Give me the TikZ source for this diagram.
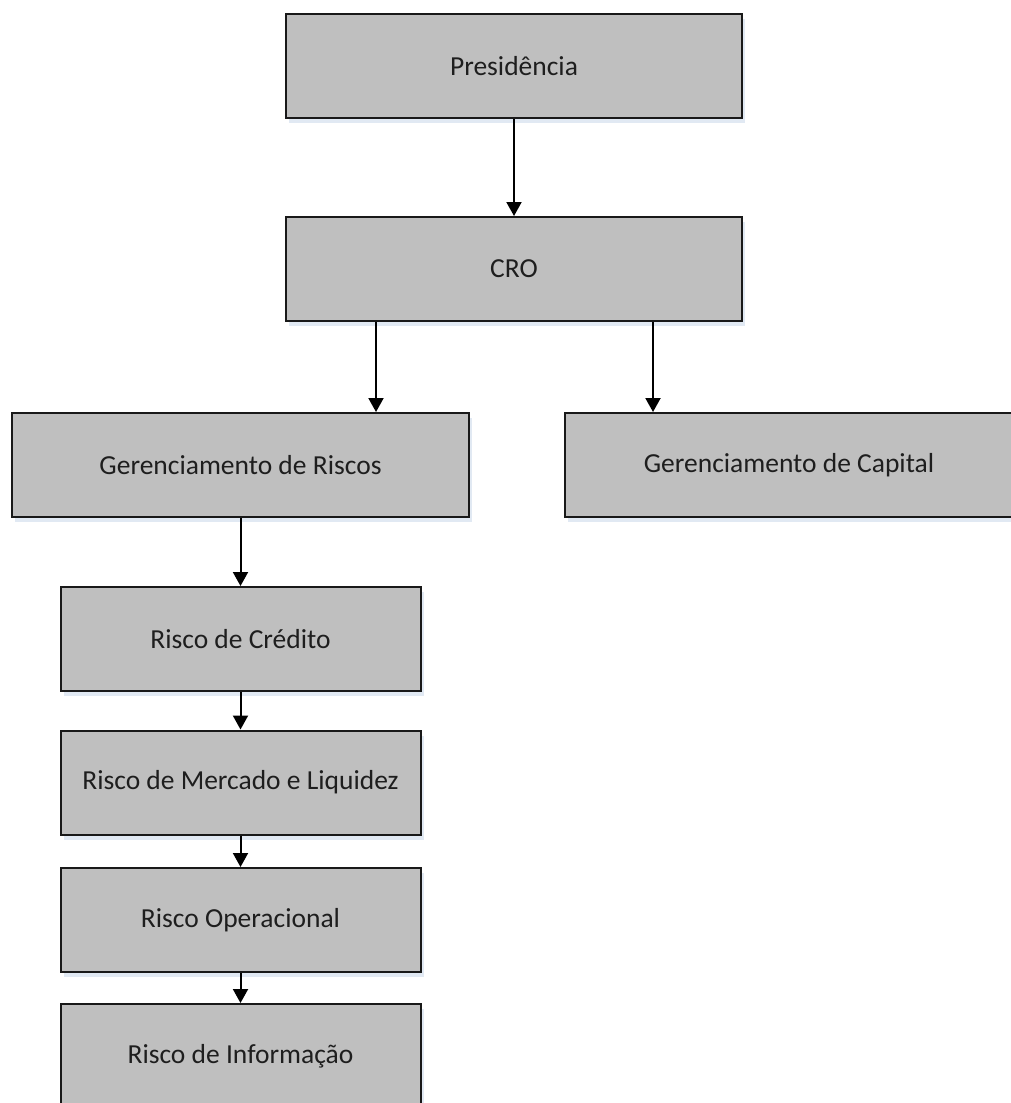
\documentclass[tikz,border=0pt]{standalone}
\usepackage{fontspec}
\setmainfont{Carlito}
\usetikzlibrary{arrows.meta,shadows}
\definecolor{boxgray}{RGB}{191,191,191}
\definecolor{textgray}{RGB}{30,30,30}
\definecolor{shadowblue}{RGB}{205,218,235}
\tikzset{
  orgbox/.style={draw=black!90, line width=2pt, fill=boxgray, text=textgray,
    minimum height=104pt, inner sep=0pt, font=\fontsize{27.5}{32}\selectfont,
    drop shadow={shadow xshift=3pt, shadow yshift=-5pt, fill=shadowblue, opacity=0.6}},
  orgarrow/.style={line width=2pt, -{Triangle[length=14pt,width=15pt]}}
}
\begin{document}
\begin{tikzpicture}[x=1pt,y=1pt,yscale=-1,xscale=1]
\useasboundingbox (0,0) rectangle (1011,1103);

% Boxes
\node [orgbox, minimum width=456pt] (pres) at (514,66) {Presidência};
\node [orgbox, minimum width=456pt] (cro) at (514,269) {CRO};
\node [orgbox, minimum width=457pt] (riscos) at (240.5,465) {Gerenciamento de Riscos};
\node [orgbox, minimum width=448pt] (capital) at (789,465) {Gerenciamento de Capital};
\node [orgbox, minimum width=360pt] (credito) at (240.5,639) {Risco de Crédito};
\node [orgbox, minimum width=360pt] (mercado) at (240.5,782.5) {Risco de Mercado e Liquidez};
\node [orgbox, minimum width=360pt] (operacional) at (240.5,920) {Risco Operacional};
\node [orgbox, minimum width=360pt] (informacao) at (240.5,1056) {Risco de Informação};

% Arrows
\draw [orgarrow] (pres) -- (cro);
\draw [orgarrow] ([xshift=91pt]cro.south west) -- ([xshift=91pt]cro.south west |- riscos.north);
\draw [orgarrow] ([xshift=368pt]cro.south west) -- ([xshift=368pt]cro.south west |- capital.north);
\draw [orgarrow] (riscos) -- (credito);
\draw [orgarrow] (credito) -- (mercado);
\draw [orgarrow] (mercado) -- (operacional);
\draw [orgarrow] (operacional) -- (informacao);

\end{tikzpicture}
\end{document}
